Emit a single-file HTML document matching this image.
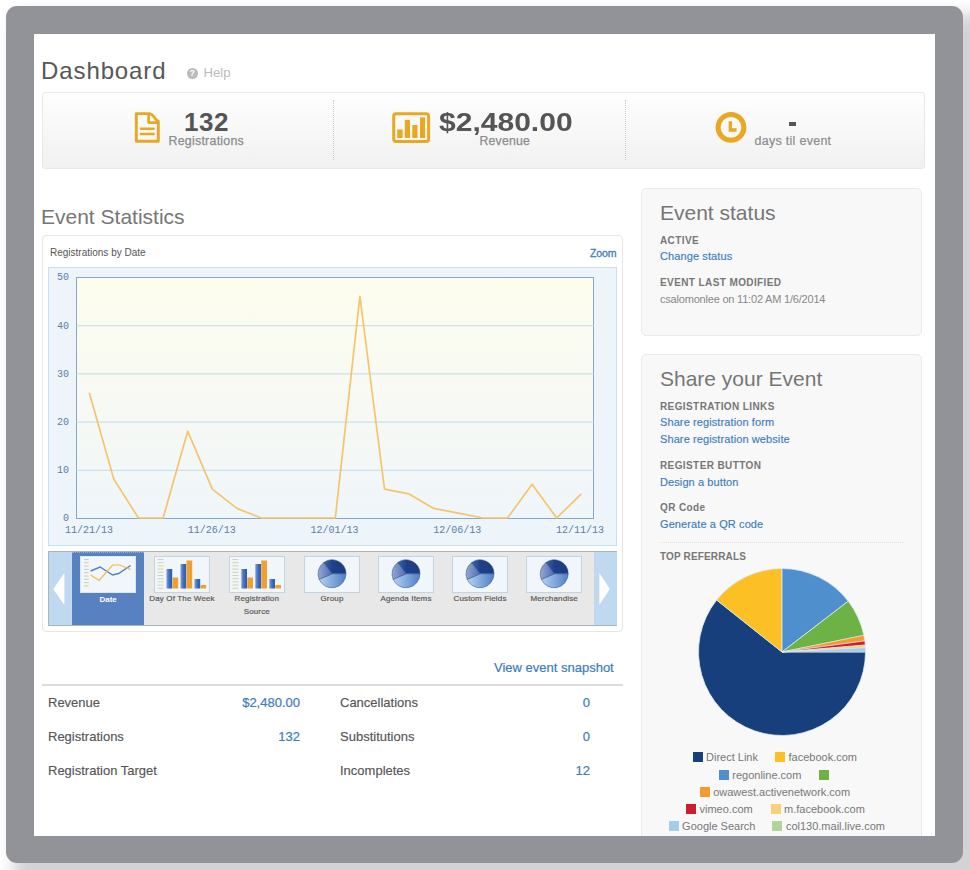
<!DOCTYPE html>
<html><head><meta charset="utf-8">
<style>
*{margin:0;padding:0;box-sizing:border-box}
html,body{width:970px;height:870px;overflow:hidden;background:#fff;font-family:"Liberation Sans",sans-serif}
.a{position:absolute;white-space:nowrap}
#shadow{position:absolute;left:14px;top:14px;width:1000px;height:900px;background:#d3d3d5;border-radius:12px;filter:blur(8px)}
#frame{position:absolute;left:6.3px;top:6.3px;width:957px;height:856.6px;background:#929398;border-radius:11px}
#inner{position:absolute;left:34px;top:34px;width:901px;height:802px;background:#fff;overflow:hidden}
.blue{color:#3b7cc0}
</style></head><body>
<div id="shadow"></div>
<div id="frame"></div>
<div id="inner"><div id="content" style="position:absolute;left:-34px;top:-34px;width:970px;height:870px">

<!-- header -->
<div class="a" style="left:41px;top:57px;font-size:24px;color:#575757;letter-spacing:0.9px">Dashboard</div>
<div class="a" style="left:186.9px;top:68.1px;width:10.8px;height:10.8px;border-radius:50%;background:#bbb;color:#fff;font-size:9px;font-weight:bold;line-height:11px;text-align:center">?</div>
<div class="a" style="left:203.5px;top:65px;font-size:13.2px;color:#bbb">Help</div>

<!-- stats box -->
<div class="a" style="left:42px;top:92px;width:883px;height:77px;border:1px solid #e9e9e9;border-radius:3px;background:linear-gradient(#fefefe,#f1f1f1)"></div>
<div class="a" style="left:333px;top:100px;width:0;height:60px;border-left:1px dotted #c8c8c8"></div>
<div class="a" style="left:625px;top:100px;width:0;height:60px;border-left:1px dotted #c8c8c8"></div>

<div class="a" style="left:184px;top:107px;font-size:26px;font-weight:bold;color:#555;letter-spacing:0.6px">132</div>
<div class="a" style="left:168.5px;top:134px;font-size:12.4px;color:#8c8c8c;letter-spacing:0.25px;-webkit-text-stroke:0.25px #8c8c8c">Registrations</div>
<div class="a" style="left:439px;top:107px;font-size:26px;font-weight:bold;color:#555;transform:scaleX(1.155);transform-origin:0 0">$2,480.00</div>
<div class="a" style="left:479.5px;top:134px;font-size:12.3px;color:#8c8c8c;letter-spacing:0.2px;-webkit-text-stroke:0.25px #8c8c8c">Revenue</div>
<div class="a" style="left:788.8px;top:121.9px;width:6.8px;height:4.3px;background:#555"></div>
<div class="a" style="left:754.5px;top:134px;font-size:12.5px;color:#8c8c8c;letter-spacing:0.28px;-webkit-text-stroke:0.2px #8c8c8c">days til event</div>

<svg class="a" style="left:0;top:0" width="970" height="870" viewBox="0 0 970 870">
<g fill="none" stroke="#e8a821" stroke-linejoin="round" stroke-linecap="round">
<path d="M136.3,113.6 L149.6,113.6 Q152,114 154,117 Q156,120 158.3,121.2 L158.3,141.2 L136.3,141.2 Z" stroke-width="2.9"/>
<path d="M148.6,114.5 L148.6,122.6 L157.5,122.6" stroke-width="2.6"/>
<line x1="141" y1="128.8" x2="153.6" y2="128.8" stroke-width="2.5"/>
<line x1="141" y1="134" x2="153.6" y2="134" stroke-width="2.5"/>
<rect x="393.7" y="113.7" width="34.9" height="27.7" rx="2.5" stroke-width="3"/>
<circle cx="731" cy="127.4" r="12.9" stroke-width="5"/>
<path d="M730.3,121.2 L730.3,130 L736.6,130" stroke-width="3.3" stroke-linecap="butt" stroke-linejoin="miter"/>
</g>
<g fill="#e8a821">
<rect x="397.2" y="129.5" width="5.4" height="8.5"/>
<rect x="404.8" y="119.9" width="5.2" height="18.1"/>
<rect x="412.3" y="125" width="5.2" height="13"/>
<rect x="420" y="117.4" width="5.1" height="20.6"/>
</g>
</svg>
<!-- event statistics -->
<div class="a" style="left:41px;top:204.5px;font-size:21px;color:#767676">Event Statistics</div>
<div class="a" style="left:42px;top:235px;width:581px;height:397px;border:1px solid #e6e6e6;border-radius:4px;background:#fff"></div>
<div class="a" style="left:50px;top:247px;font-size:10px;color:#555">Registrations by Date</div>
<div class="a blue" style="left:590px;top:246.5px;font-size:10.6px;letter-spacing:-0.2px;-webkit-text-stroke:0.3px #3b7cc0">Zoom</div>
<div class="a" style="left:48px;top:267px;width:569px;height:279px;border:1px solid #c9e0f0;background:#eef5fa"></div>

<svg class="a" style="left:0;top:0" width="970" height="870" viewBox="0 0 970 870">
<defs><linearGradient id="pg" x1="0" y1="0" x2="0" y2="1"><stop offset="0" stop-color="#fdfdee"/><stop offset="0.5" stop-color="#f7f9f3"/><stop offset="1" stop-color="#eff6fa"/></linearGradient></defs>
<rect x="76.5" y="277.5" width="517" height="241" fill="url(#pg)" stroke="#86a7c6" stroke-width="1"/>
<line x1="76.5" x2="594" y1="470.3" y2="470.3" stroke="#c3dae9" stroke-width="1"/><line x1="76.5" x2="594" y1="422.1" y2="422.1" stroke="#c3dae9" stroke-width="1"/><line x1="76.5" x2="594" y1="373.9" y2="373.9" stroke="#c3dae9" stroke-width="1"/><line x1="76.5" x2="594" y1="325.7" y2="325.7" stroke="#c3dae9" stroke-width="1"/>
<polyline points="89.3,392.7 113.9,479.4 138.5,518.0 163.1,518.0 187.7,431.2 212.3,489.1 236.9,508.4 261.5,518.0 286.1,518.0 310.7,518.0 335.3,518.0 359.9,296.3 384.5,489.1 409.1,493.9 433.7,508.4 458.3,513.2 482.9,518.0 507.5,518.0 532.1,484.3 556.7,518.0 581.3,493.9" fill="none" stroke="#f5c46c" stroke-width="1.7" stroke-linejoin="round"/>
<g font-family="Liberation Mono" font-size="10" fill="#5a7ea8"><text x="69" y="521.3" text-anchor="end">0</text><text x="69" y="473.1" text-anchor="end">10</text><text x="69" y="424.9" text-anchor="end">20</text><text x="69" y="376.7" text-anchor="end">30</text><text x="69" y="328.5" text-anchor="end">40</text><text x="69" y="280.3" text-anchor="end">50</text><text x="89.0" y="533" text-anchor="middle">11/21/13</text><text x="211.8" y="533" text-anchor="middle">11/26/13</text><text x="334.5" y="533" text-anchor="middle">12/01/13</text><text x="457.2" y="533" text-anchor="middle">12/06/13</text><text x="580.0" y="533" text-anchor="middle">12/11/13</text></g>
</svg>
<!--thumbs-start-->
<div class="a" style="left:48px;top:551px;width:569px;height:75px;background:#e8e8e8;border:1px solid #a9b5be;border-right:none"></div>
<div class="a" style="left:49px;top:552px;width:22px;height:73px;background:#bfd9f1"></div>
<div class="a" style="left:70.5px;top:552px;width:1.5px;height:73px;background:#cbd9e6"></div>
<div class="a" style="left:72px;top:552px;width:72px;height:73px;background:#5781c1;border-top:1px dotted #8fb0e0"></div>
<div class="a" style="left:593.5px;top:552px;width:23.5px;height:73px;background:#bfd9f1;border-left:1px solid #c8d6e2"></div>
<div class="a" style="left:80.1px;top:555.5px;width:56px;height:37px;background:#f0f6fa;border:1px solid #dce6ef"></div>
<div class="a" style="left:68.1px;width:80px;text-align:center;top:593.5px;font-size:8px;line-height:12.7px;font-weight:bold;letter-spacing:0px;color:#fff;white-space:normal;-webkit-text-stroke:0px #fff">Date</div>
<div class="a" style="left:154.0px;top:555.5px;width:56px;height:37px;background:#f0f6fa;border:1px solid #c3d3e0"></div>
<div class="a" style="left:142.0px;width:80px;text-align:center;top:593px;font-size:8px;line-height:12.7px;font-weight:normal;letter-spacing:0.15px;color:#5a5a5a;white-space:normal;-webkit-text-stroke:0.2px #5a5a5a">Day Of The Week</div>
<div class="a" style="left:228.8px;top:555.5px;width:56px;height:37px;background:#f0f6fa;border:1px solid #c3d3e0"></div>
<div class="a" style="left:216.8px;width:80px;text-align:center;top:593px;font-size:8px;line-height:12.7px;font-weight:normal;letter-spacing:0.15px;color:#5a5a5a;white-space:normal;-webkit-text-stroke:0.2px #5a5a5a">Registration<br>Source</div>
<div class="a" style="left:304.0px;top:555.5px;width:56px;height:37px;background:#f0f6fa;border:1px solid #c3d3e0"></div>
<div class="a" style="left:292.0px;width:80px;text-align:center;top:593px;font-size:8px;line-height:12.7px;font-weight:normal;letter-spacing:0.15px;color:#5a5a5a;white-space:normal;-webkit-text-stroke:0.2px #5a5a5a">Group</div>
<div class="a" style="left:378.0px;top:555.5px;width:56px;height:37px;background:#f0f6fa;border:1px solid #c3d3e0"></div>
<div class="a" style="left:366.0px;width:80px;text-align:center;top:593px;font-size:8px;line-height:12.7px;font-weight:normal;letter-spacing:0.15px;color:#5a5a5a;white-space:normal;-webkit-text-stroke:0.2px #5a5a5a">Agenda Items</div>
<div class="a" style="left:452.0px;top:555.5px;width:56px;height:37px;background:#f0f6fa;border:1px solid #c3d3e0"></div>
<div class="a" style="left:440.0px;width:80px;text-align:center;top:593px;font-size:8px;line-height:12.7px;font-weight:normal;letter-spacing:0.15px;color:#5a5a5a;white-space:normal;-webkit-text-stroke:0.2px #5a5a5a">Custom Fields</div>
<div class="a" style="left:526.2px;top:555.5px;width:56px;height:37px;background:#f0f6fa;border:1px solid #c3d3e0"></div>
<div class="a" style="left:514.2px;width:80px;text-align:center;top:593px;font-size:8px;line-height:12.7px;font-weight:normal;letter-spacing:0.15px;color:#5a5a5a;white-space:normal;-webkit-text-stroke:0.2px #5a5a5a">Merchandise</div>
<svg id="thumbs" class="a" style="left:0;top:0" width="970" height="870" viewBox="0 0 970 870"><defs><linearGradient id="pd" x1="0" y1="0" x2="1" y2="0"><stop offset="0" stop-color="#3a64ac"/><stop offset="0.4" stop-color="#1f4088"/><stop offset="1" stop-color="#1d3c80"/></linearGradient><linearGradient id="pl" x1="0" y1="0" x2="1" y2="0"><stop offset="0" stop-color="#b4d2f0"/><stop offset="1" stop-color="#4f7fc6"/></linearGradient><linearGradient id="pm" x1="0" y1="0" x2="1" y2="0"><stop offset="0" stop-color="#98a8d0"/><stop offset="1" stop-color="#4a6cb2"/></linearGradient><linearGradient id="bb" x1="0" y1="0" x2="1" y2="0"><stop offset="0" stop-color="#7aa0dc"/><stop offset="0.5" stop-color="#3e6cc0"/><stop offset="1" stop-color="#2f5aa8"/></linearGradient></defs><g stroke="#c8c89a" stroke-width="0.9"><line x1="84.1" x2="88.6" y1="559.5" y2="559.5"/><line x1="84.1" x2="88.6" y1="562.8" y2="562.8"/><line x1="84.1" x2="88.6" y1="566.1" y2="566.1"/><line x1="84.1" x2="88.6" y1="569.4" y2="569.4"/><line x1="84.1" x2="88.6" y1="572.7" y2="572.7"/><line x1="84.1" x2="88.6" y1="576.0" y2="576.0"/><line x1="84.1" x2="88.6" y1="579.3" y2="579.3"/><line x1="84.1" x2="88.6" y1="582.6" y2="582.6"/><line x1="84.1" x2="88.6" y1="585.9" y2="585.9"/></g><polyline points="90.6,571.0 100.1,567.0 112.6,575.0 118.6,573.5 130.6,565.5" fill="none" stroke="#5080c8" stroke-width="1.4"/><polyline points="90.6,575.0 99.1,580.5 112.6,565.0 119.6,565.0 130.6,569.5" fill="none" stroke="#f4b84a" stroke-width="1.2"/><g stroke="#cfcfa8" stroke-width="0.9"><line x1="157.5" x2="163.5" y1="559.5" y2="559.5"/><line x1="157.5" x2="163.5" y1="562.7" y2="562.7"/><line x1="157.5" x2="163.5" y1="565.9" y2="565.9"/><line x1="157.5" x2="163.5" y1="569.1" y2="569.1"/><line x1="157.5" x2="163.5" y1="572.3" y2="572.3"/><line x1="157.5" x2="163.5" y1="575.5" y2="575.5"/><line x1="157.5" x2="163.5" y1="578.7" y2="578.7"/><line x1="157.5" x2="163.5" y1="581.9" y2="581.9"/><line x1="157.5" x2="163.5" y1="585.1" y2="585.1"/><line x1="157.5" x2="163.5" y1="588.3" y2="588.3"/></g><rect x="166.5" y="569.0" width="5.7" height="19.5" fill="url(#bb)"/><rect x="172.5" y="577.5" width="5.7" height="11" fill="#f0a030"/><rect x="180.5" y="564.0" width="5.7" height="24.5" fill="url(#bb)"/><rect x="186.5" y="560.5" width="5.7" height="28" fill="#f0a030"/><rect x="194.5" y="579.0" width="5.7" height="9.5" fill="url(#bb)"/><rect x="200.5" y="585.0" width="5.7" height="3.5" fill="#f0a030"/><g stroke="#cfcfa8" stroke-width="0.9"><line x1="232.3" x2="238.3" y1="559.5" y2="559.5"/><line x1="232.3" x2="238.3" y1="562.7" y2="562.7"/><line x1="232.3" x2="238.3" y1="565.9" y2="565.9"/><line x1="232.3" x2="238.3" y1="569.1" y2="569.1"/><line x1="232.3" x2="238.3" y1="572.3" y2="572.3"/><line x1="232.3" x2="238.3" y1="575.5" y2="575.5"/><line x1="232.3" x2="238.3" y1="578.7" y2="578.7"/><line x1="232.3" x2="238.3" y1="581.9" y2="581.9"/><line x1="232.3" x2="238.3" y1="585.1" y2="585.1"/><line x1="232.3" x2="238.3" y1="588.3" y2="588.3"/></g><rect x="241.3" y="569.0" width="5.7" height="19.5" fill="url(#bb)"/><rect x="247.3" y="577.5" width="5.7" height="11" fill="#f0a030"/><rect x="255.3" y="564.0" width="5.7" height="24.5" fill="url(#bb)"/><rect x="261.3" y="560.5" width="5.7" height="28" fill="#f0a030"/><rect x="269.3" y="579.0" width="5.7" height="9.5" fill="url(#bb)"/><rect x="275.3" y="585.0" width="5.7" height="3.5" fill="#f0a030"/><path d="M332.0,573.8 L323.67,562.55 A14,14 0 0 1 346.00,573.80 Z" fill="url(#pd)" stroke="#2a4a8a" stroke-width="0.5"/><path d="M332.0,573.8 L346.00,573.80 A14,14 0 0 1 319.14,579.34 Z" fill="url(#pl)" stroke="#2a4a8a" stroke-width="0.5"/><path d="M332.0,573.8 L319.14,579.34 A14,14 0 0 1 323.67,562.55 Z" fill="url(#pm)" stroke="#2a4a8a" stroke-width="0.5"/><path d="M406.0,573.8 L397.67,562.55 A14,14 0 0 1 420.00,573.80 Z" fill="url(#pd)" stroke="#2a4a8a" stroke-width="0.5"/><path d="M406.0,573.8 L420.00,573.80 A14,14 0 0 1 393.14,579.34 Z" fill="url(#pl)" stroke="#2a4a8a" stroke-width="0.5"/><path d="M406.0,573.8 L393.14,579.34 A14,14 0 0 1 397.67,562.55 Z" fill="url(#pm)" stroke="#2a4a8a" stroke-width="0.5"/><path d="M480.0,573.8 L471.67,562.55 A14,14 0 0 1 494.00,573.80 Z" fill="url(#pd)" stroke="#2a4a8a" stroke-width="0.5"/><path d="M480.0,573.8 L494.00,573.80 A14,14 0 0 1 467.14,579.34 Z" fill="url(#pl)" stroke="#2a4a8a" stroke-width="0.5"/><path d="M480.0,573.8 L467.14,579.34 A14,14 0 0 1 471.67,562.55 Z" fill="url(#pm)" stroke="#2a4a8a" stroke-width="0.5"/><path d="M554.2,573.8 L545.87,562.55 A14,14 0 0 1 568.20,573.80 Z" fill="url(#pd)" stroke="#2a4a8a" stroke-width="0.5"/><path d="M554.2,573.8 L568.20,573.80 A14,14 0 0 1 541.34,579.34 Z" fill="url(#pl)" stroke="#2a4a8a" stroke-width="0.5"/><path d="M554.2,573.8 L541.34,579.34 A14,14 0 0 1 545.87,562.55 Z" fill="url(#pm)" stroke="#2a4a8a" stroke-width="0.5"/><polygon points="64.4,573 64.4,605 53.2,589" fill="#fff"/><polygon points="599.4,573 599.4,605 609.8,589" fill="#fff"/></svg>
<!--thumbs-end-->
<!-- bottom stats -->
<div class="a blue" style="left:494px;top:660px;font-size:13px;-webkit-text-stroke:0.2px #3b7cc0">View event snapshot</div>
<div class="a" style="left:42px;top:684px;width:581px;height:2px;background:#dcdcdc"></div>
<div class="a" style="left:48px;top:695px;font-size:13px;color:#555;-webkit-text-stroke:0.15px #555">Revenue</div>
<div class="a blue" style="left:0;width:300px;text-align:right;top:695px;font-size:13px;-webkit-text-stroke:0.2px #3b7cc0">$2,480.00</div>
<div class="a" style="left:48px;top:729px;font-size:13px;color:#555;-webkit-text-stroke:0.15px #555">Registrations</div>
<div class="a blue" style="left:0;width:300px;text-align:right;top:729px;font-size:13px;-webkit-text-stroke:0.2px #3b7cc0">132</div>
<div class="a" style="left:48px;top:763px;font-size:13px;color:#555;-webkit-text-stroke:0.15px #555">Registration Target</div>
<div class="a" style="left:340px;top:695px;font-size:13px;color:#555;-webkit-text-stroke:0.15px #555">Cancellations</div>
<div class="a blue" style="left:0;width:590px;text-align:right;top:695px;font-size:13px;-webkit-text-stroke:0.2px #3b7cc0">0</div>
<div class="a" style="left:340px;top:729px;font-size:13px;color:#555;-webkit-text-stroke:0.15px #555">Substitutions</div>
<div class="a blue" style="left:0;width:590px;text-align:right;top:729px;font-size:13px;-webkit-text-stroke:0.2px #3b7cc0">0</div>
<div class="a" style="left:340px;top:763px;font-size:13px;color:#555;-webkit-text-stroke:0.15px #555">Incompletes</div>
<div class="a blue" style="left:0;width:590px;text-align:right;top:763px;font-size:13px;-webkit-text-stroke:0.2px #3b7cc0">12</div>

<!-- right column -->
<div class="a" style="left:641px;top:188px;width:281px;height:148px;border:1px solid #eaeaea;border-radius:5px;background:#f8f8f8"></div>
<div class="a" style="left:660px;top:200.5px;font-size:21px;color:#767676">Event status</div>
<div class="a" style="left:660px;top:235px;font-size:10px;font-weight:bold;color:#777;letter-spacing:0.4px">ACTIVE</div>
<div class="a blue" style="left:660px;top:250px;font-size:11px;letter-spacing:0.1px;-webkit-text-stroke:0.15px #3b7cc0">Change status</div>
<div class="a" style="left:660px;top:277px;font-size:10px;font-weight:bold;color:#777;letter-spacing:0.4px">EVENT LAST MODIFIED</div>
<div class="a" style="left:660px;top:293px;font-size:11px;color:#888;letter-spacing:-0.2px">csalomonlee on 11:02 AM 1/6/2014</div>

<div class="a" style="left:641px;top:354px;width:281px;height:500px;border:1px solid #eaeaea;border-radius:5px;background:#f8f8f8"></div>
<div class="a" style="left:660px;top:367px;font-size:21px;color:#767676">Share your Event</div>
<div class="a" style="left:660px;top:401px;font-size:10px;font-weight:bold;color:#777;letter-spacing:0.4px">REGISTRATION LINKS</div>
<div class="a blue" style="left:660px;top:416px;font-size:11px;letter-spacing:0.1px;-webkit-text-stroke:0.15px #3b7cc0">Share registration form</div>
<div class="a blue" style="left:660px;top:433px;font-size:11px;letter-spacing:0.1px;-webkit-text-stroke:0.15px #3b7cc0">Share registration website</div>
<div class="a" style="left:660px;top:460px;font-size:10px;font-weight:bold;color:#777;letter-spacing:0.4px">REGISTER BUTTON</div>
<div class="a blue" style="left:660px;top:476px;font-size:11px;letter-spacing:0.1px;-webkit-text-stroke:0.15px #3b7cc0">Design a button</div>
<div class="a" style="left:660px;top:502px;font-size:10px;font-weight:bold;color:#777;letter-spacing:0.4px">QR Code</div>
<div class="a blue" style="left:660px;top:518px;font-size:11px;letter-spacing:0.1px;-webkit-text-stroke:0.15px #3b7cc0">Generate a QR code</div>
<div class="a" style="left:660px;top:542px;width:243px;height:0;border-top:1px dotted #e0e0e0"></div>
<div class="a" style="left:660px;top:551px;font-size:10px;font-weight:bold;color:#777;letter-spacing:0.15px">TOP REFERRALS</div>

<svg id="pie" class="a" style="left:0;top:0" width="970" height="870" viewBox="0 0 970 870"><path d="M782,652 L865.50,652.00 A83.5,83.5 0 1 1 716.65,600.02 Z" fill="#173f7b" stroke="#dceaf6" stroke-width="0.8" stroke-linejoin="round"/><path d="M782,652 L716.65,600.02 A83.5,83.5 0 0 1 782.00,568.50 Z" fill="#fcc024" stroke="#dceaf6" stroke-width="0.8" stroke-linejoin="round"/><path d="M782,652 L782.00,568.50 A83.5,83.5 0 0 1 848.25,601.17 Z" fill="#4f8fcd" stroke="#dceaf6" stroke-width="0.8" stroke-linejoin="round"/><path d="M782,652 L848.25,601.17 A83.5,83.5 0 0 1 863.82,635.35 Z" fill="#6db244" stroke="#dceaf6" stroke-width="0.8" stroke-linejoin="round"/><path d="M782,652 L863.82,635.35 A83.5,83.5 0 0 1 864.77,640.96 Z" fill="#f39b2c" stroke="#dceaf6" stroke-width="0.6" stroke-linejoin="round"/><path d="M782,652 L864.77,640.96 A83.5,83.5 0 0 1 865.21,645.01 Z" fill="#cc1f2e" stroke="#dceaf6" stroke-width="0.6" stroke-linejoin="round"/><path d="M782,652 L865.21,645.01 A83.5,83.5 0 0 1 865.39,647.78 Z" fill="#f9d277" stroke="#dceaf6" stroke-width="0.5" stroke-linejoin="round"/><path d="M782,652 L865.39,647.78 A83.5,83.5 0 0 1 865.50,652.00 Z" fill="#a4cdeb" stroke="#dceaf6" stroke-width="0.5" stroke-linejoin="round"/></svg>
<div class="a" style="left:692.5px;top:752px;width:10px;height:10px;background:#173f7b"></div>
<div class="a" style="left:706.0px;top:750px;font-size:11px;line-height:14px;color:#777">Direct Link</div>
<div class="a" style="left:775px;top:752px;width:10px;height:10px;background:#fcc024"></div>
<div class="a" style="left:788.5px;top:750px;font-size:11px;line-height:14px;color:#777">facebook.com</div>
<div class="a" style="left:718.8px;top:770px;width:10px;height:10px;background:#4f8fcd"></div>
<div class="a" style="left:732.3px;top:768px;font-size:11px;line-height:14px;color:#777">regonline.com</div>
<div class="a" style="left:818.8px;top:770px;width:10px;height:10px;background:#6db244"></div>
<div class="a" style="left:699.7px;top:787px;width:10px;height:10px;background:#f39b2c"></div>
<div class="a" style="left:713.2px;top:785px;font-size:11px;line-height:14px;color:#777">owawest.activenetwork.com</div>
<div class="a" style="left:686px;top:804px;width:10px;height:10px;background:#cc1f2e"></div>
<div class="a" style="left:699.5px;top:802px;font-size:11px;line-height:14px;color:#777">vimeo.com</div>
<div class="a" style="left:770.6px;top:804px;width:10px;height:10px;background:#f9d277"></div>
<div class="a" style="left:784.1px;top:802px;font-size:11px;line-height:14px;color:#777">m.facebook.com</div>
<div class="a" style="left:668.6px;top:821px;width:10px;height:10px;background:#a4cdeb"></div>
<div class="a" style="left:682.1px;top:819px;font-size:11px;line-height:14px;color:#777">Google Search</div>
<div class="a" style="left:772.4px;top:821px;width:10px;height:10px;background:#b0d59b"></div>
<div class="a" style="left:785.9px;top:819px;font-size:11px;line-height:14px;color:#777">col130.mail.live.com</div>
</div></div>
</body></html>
